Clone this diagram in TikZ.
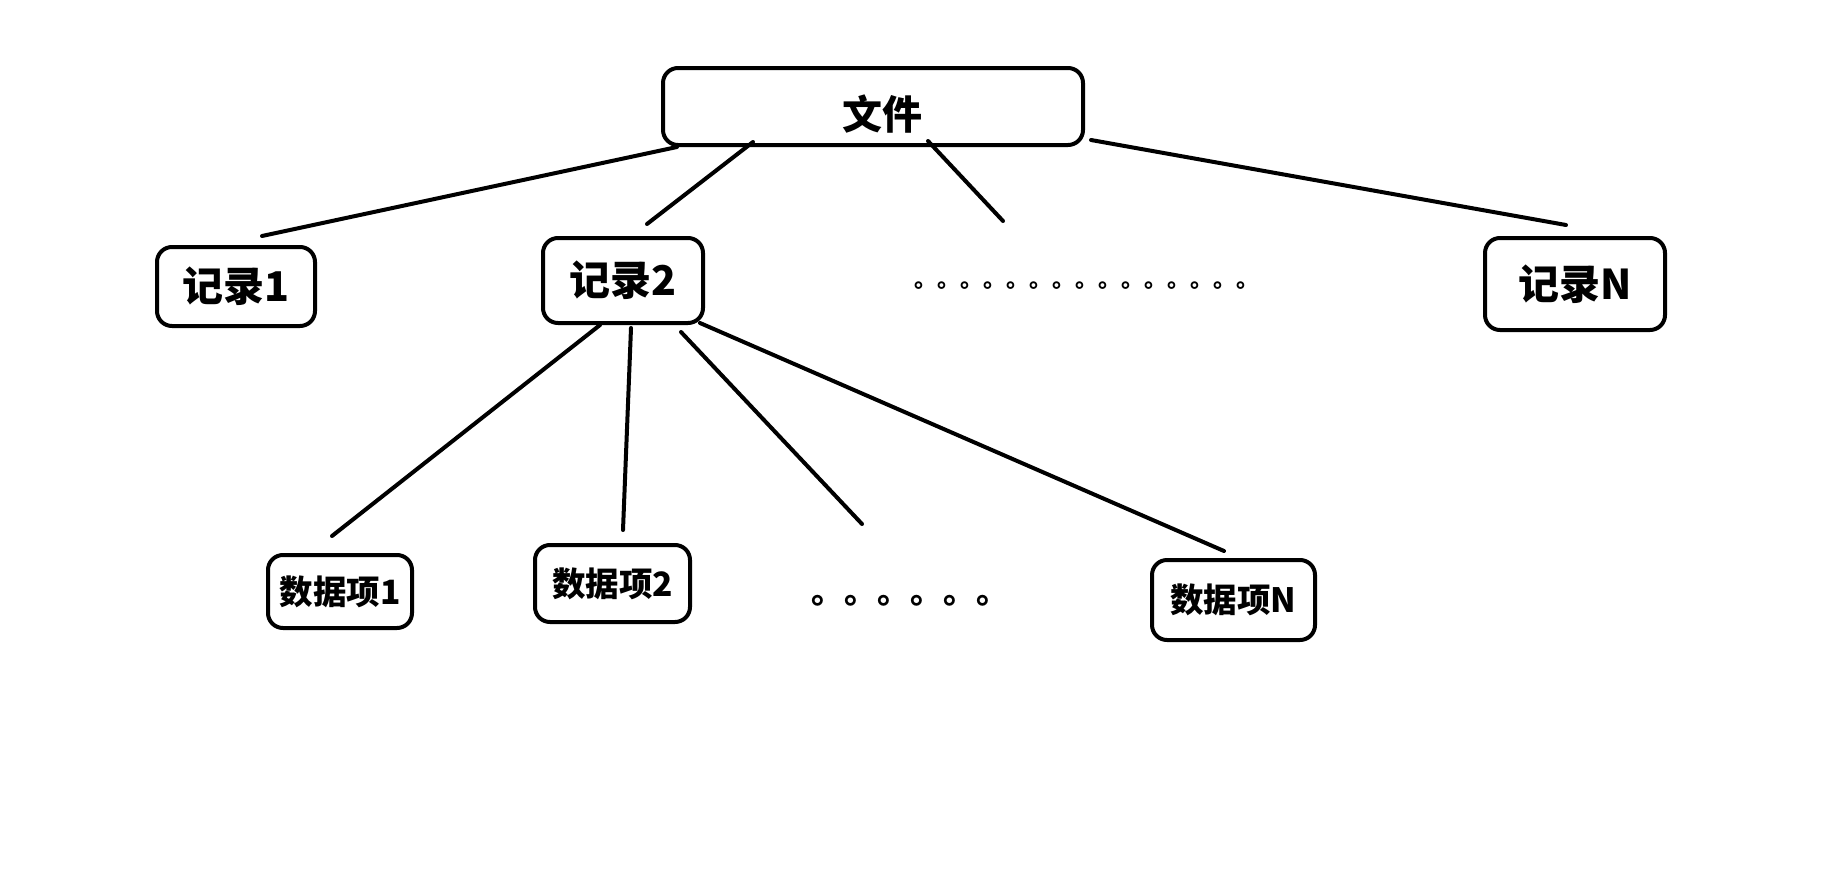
\documentclass[tikz,border=0pt]{standalone}
\usepackage{fontspec}
\newfontfamily\cjk{Noto Sans CJK SC}
\begin{document}
\begin{tikzpicture}[x=1pt,y=-1pt,
  box/.style={draw=black,line width=4pt,rounded corners=15pt,inner sep=0pt},
  big/.style={font=\cjk\bfseries\fontsize{40}{42}\selectfont},
  mid/.style={font=\cjk\bfseries\fontsize{41}{43}\selectfont},
  small/.style={font=\cjk\bfseries\fontsize{33.5}{35}\selectfont},
  conn/.style={line width=4pt,line cap=round}]
\useasboundingbox[fill=white] (0,0) rectangle (1839,878);
% boxes
\node[box,minimum width=420pt,minimum height=77pt,
  label={[big,xshift=9pt,yshift=-8pt]center:文件}] (file) at (873,106.5) {};
\node[box,minimum width=158pt,minimum height=79pt,mid] (r1) at (236,286.5) {记录1};
\node[box,minimum width=160pt,minimum height=85pt,mid] (r2) at (623,280.5) {记录2};
\node[box,minimum width=180pt,minimum height=92pt,mid] (rN) at (1575,284) {记录N};
\node[box,minimum width=144pt,minimum height=73pt,small] (d1) at (340,591.5) {数据项1};
\node[box,minimum width=155pt,minimum height=77pt,small] (d2) at (612.5,583.5) {数据项2};
\node[box,minimum width=163pt,minimum height=80pt,small] (dN) at (1233.5,600) {数据项N};
% dots
\node[font=\cjk\bfseries\fontsize{23}{23}\selectfont,inner sep=0pt,anchor=base west] (dotsA) at (914,287) {。。。。。。。。。。。。。。。};
\node[font=\cjk\bfseries\fontsize{33}{33}\selectfont,inner sep=0pt,anchor=base west] (dotsB) at (811,603) {。。。。。。};
% connector end points
\coordinate (fa) at (677,147); \coordinate (ra) at (262,236);
\coordinate (fb) at (753,142); \coordinate (rb) at (647,224);
\coordinate (fc) at (928,141); \coordinate (rc) at (1003,221);
\coordinate (fd) at (1091,140); \coordinate (rd) at (1566,225);
\coordinate (sa) at (600,325); \coordinate (da) at (332,536);
\coordinate (sb) at (631,328); \coordinate (db) at (623,530);
\coordinate (sc) at (681,332); \coordinate (dc) at (862,524);
\coordinate (sd) at (700,323); \coordinate (dd) at (1224,551);
\draw[conn] (fa) -- (ra);
\draw[conn] (fb) -- (rb);
\draw[conn] (fc) -- (rc);
\draw[conn] (fd) -- (rd);
\draw[conn] (sa) -- (da);
\draw[conn] (sb) -- (db);
\draw[conn] (sc) -- (dc);
\draw[conn] (sd) -- (dd);
\end{tikzpicture}
\end{document}
